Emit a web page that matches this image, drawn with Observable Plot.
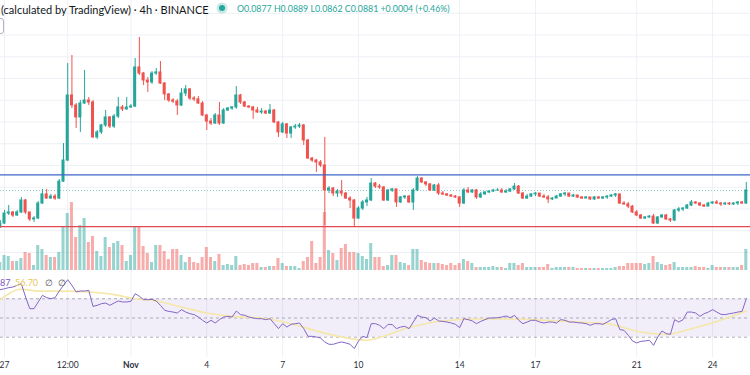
<!DOCTYPE html>
<html><head><meta charset="utf-8">
<script src="https://cdn.jsdelivr.net/npm/d3@7"></script>
<script src="https://cdn.jsdelivr.net/npm/@observablehq/plot@0.6"></script>
<style>
html,body{margin:0;padding:0;background:#fff;}
#chart{position:relative;width:750px;height:375px;overflow:hidden;background:#fff;font-family:Lato,"Noto Sans",sans-serif;}
#chart svg{position:absolute;left:0;}
.txt{position:absolute;white-space:nowrap;line-height:1;}
</style></head><body><div id="chart"></div>
<script>
// ---------- header texts ----------
const titleText = "(calculated by TradingView) · 4h · BINANCE";
const ohlcLabels = ["O", "H", "L", "C"];
const ohlcValues = ["0.0877", "0.0889", "0.0862", "0.0881"];
const changeText = "+0.0004 (+0.46%)";
const rsiLegend = ["87", "56.70", "∅", "∅"];

// ---------- x axis ----------
const dayTicks = [0, 15, 48, 66, 84, 108, 126, 150, 168];
const dayLabels = ["27", "12:00", "4", "7", "10", "14", "17", "21", "24"];
const monthTicks = [30];
const monthLabels = ["Nov"];

// ---------- 4h candles, index -1 .. 176 ----------
const startIndex = -1;
const firstOpen = 0.0719;
const close = [
0.0733,0.0779,0.0784,0.0770,0.0784,0.0839,0.0784,0.0752,0.0756,0.0825,0.0867,
0.0848,0.0857,0.0848,0.0926,0.1023,0.1322,0.1276,0.1221,0.1285,0.1299,
0.1290,0.1129,0.1152,0.1184,0.1221,0.1179,0.1225,0.1267,0.1258,0.1267,
0.1271,0.1451,0.1423,0.1391,0.1382,0.1423,0.1428,0.1377,0.1327,0.1299,
0.1294,0.1276,0.1331,0.1350,0.1308,0.1304,0.1285,0.1230,0.1202,0.1193,
0.1230,0.1193,0.1253,0.1262,0.1267,0.1322,0.1290,0.1271,0.1267,0.1253,
0.1244,0.1248,0.1239,0.1253,0.1198,0.1152,0.1189,0.1147,0.1175,0.1179,
0.1184,0.1115,0.1032,0.1023,0.1014,0.1000,0.0885,0.0894,0.0871,0.0880,
0.0871,0.0848,0.0839,0.0756,0.0802,0.0830,0.0839,0.0917,0.0903,0.0899,
0.0839,0.0885,0.0890,0.0830,0.0853,0.0857,0.0830,0.0885,0.0940,0.0922,
0.0913,0.0885,0.0908,0.0871,0.0867,0.0862,0.0857,0.0853,0.0825,0.0885,
0.0876,0.0885,0.0853,0.0867,0.0876,0.0880,0.0885,0.0885,0.0876,0.0880,
0.0890,0.0903,0.0871,0.0848,0.0857,0.0867,0.0871,0.0857,0.0853,0.0844,
0.0848,0.0857,0.0867,0.0871,0.0857,0.0862,0.0853,0.0848,0.0853,0.0844,
0.0853,0.0848,0.0853,0.0857,0.0862,0.0867,0.0825,0.0821,0.0811,0.0784,
0.0770,0.0756,0.0761,0.0765,0.0733,0.0761,0.0770,0.0752,0.0747,0.0793,
0.0798,0.0802,0.0816,0.0830,0.0825,0.0816,0.0811,0.0825,0.0830,0.0825,
0.0821,0.0825,0.0821,0.0825,0.0830,0.0825,0.0885];
const high = [
0.0747,0.0793,0.0816,0.0788,0.0793,0.0853,0.0844,0.0784,0.0765,0.0834,0.0890,
0.0890,0.0867,0.0867,0.0936,0.1101,0.1469,0.1506,0.1285,0.1299,0.1437,
0.1313,0.1299,0.1161,0.1189,0.1253,0.1225,0.1235,0.1313,0.1276,0.1313,
0.1281,0.1492,0.1589,0.1428,0.1405,0.1432,0.1446,0.1478,0.1382,0.1331,
0.1308,0.1304,0.1354,0.1368,0.1354,0.1317,0.1317,0.1294,0.1235,0.1216,
0.1239,0.1290,0.1262,0.1267,0.1271,0.1363,0.1327,0.1294,0.1276,0.1271,
0.1267,0.1262,0.1253,0.1281,0.1258,0.1202,0.1198,0.1193,0.1179,0.1189,
0.1193,0.1189,0.1120,0.1037,0.1028,0.1023,0.1129,0.0903,0.0899,0.0890,
0.0931,0.0876,0.0857,0.0844,0.0811,0.0839,0.0853,0.0940,0.0922,0.0913,
0.0903,0.0890,0.0894,0.0890,0.0857,0.0862,0.0862,0.0894,0.0949,0.0945,
0.0926,0.0917,0.0913,0.0917,0.0880,0.0871,0.0867,0.0862,0.0857,0.0894,
0.0899,0.0890,0.0890,0.0876,0.0880,0.0885,0.0890,0.0894,0.0894,0.0890,
0.0894,0.0917,0.0908,0.0876,0.0867,0.0871,0.0876,0.0871,0.0867,0.0862,
0.0853,0.0862,0.0871,0.0876,0.0871,0.0867,0.0862,0.0857,0.0857,0.0853,
0.0857,0.0857,0.0857,0.0862,0.0867,0.0871,0.0867,0.0834,0.0830,0.0816,
0.0793,0.0775,0.0765,0.0770,0.0775,0.0765,0.0775,0.0775,0.0756,0.0798,
0.0807,0.0807,0.0821,0.0839,0.0834,0.0830,0.0821,0.0830,0.0834,0.0839,
0.0830,0.0830,0.0830,0.0830,0.0834,0.0834,0.0922];
const low = [
0.0710,0.0729,0.0770,0.0761,0.0765,0.0779,0.0775,0.0742,0.0738,0.0752,0.0821,
0.0844,0.0844,0.0839,0.0844,0.0922,0.1018,0.1262,0.1170,0.1152,0.1281,
0.1276,0.1124,0.1120,0.1143,0.1175,0.1170,0.1170,0.1216,0.1248,0.1253,
0.1262,0.1267,0.1414,0.1368,0.1336,0.1373,0.1414,0.1373,0.1299,0.1290,
0.1285,0.1230,0.1271,0.1317,0.1299,0.1294,0.1281,0.1225,0.1161,0.1184,
0.1189,0.1184,0.1189,0.1248,0.1253,0.1258,0.1281,0.1267,0.1262,0.1212,
0.1239,0.1235,0.1235,0.1235,0.1193,0.1129,0.1147,0.1124,0.1124,0.1166,
0.1170,0.1092,0.1028,0.1014,0.0968,0.0991,0.0724,0.0871,0.0857,0.0853,
0.0857,0.0844,0.0802,0.0715,0.0752,0.0793,0.0811,0.0834,0.0894,0.0890,
0.0834,0.0834,0.0876,0.0807,0.0825,0.0844,0.0825,0.0793,0.0880,0.0917,
0.0903,0.0880,0.0880,0.0862,0.0862,0.0857,0.0853,0.0848,0.0807,0.0821,
0.0871,0.0871,0.0844,0.0848,0.0862,0.0871,0.0876,0.0880,0.0871,0.0871,
0.0876,0.0885,0.0867,0.0844,0.0844,0.0853,0.0857,0.0853,0.0848,0.0825,
0.0839,0.0848,0.0853,0.0857,0.0853,0.0853,0.0848,0.0844,0.0848,0.0839,
0.0839,0.0844,0.0844,0.0844,0.0853,0.0853,0.0821,0.0816,0.0802,0.0779,
0.0765,0.0752,0.0752,0.0756,0.0729,0.0729,0.0756,0.0747,0.0738,0.0742,
0.0784,0.0788,0.0798,0.0811,0.0821,0.0811,0.0807,0.0811,0.0821,0.0821,
0.0811,0.0816,0.0816,0.0816,0.0816,0.0821,0.0821];
const volume = [
8,15,14,9,9,12,18,17,5,25,21,
15,13,13,18,43,57,68,33,45,52,
28,34,19,14,33,23,27,29,25,9,
15,44,44,24,17,8,25,25,19,11,
21,21,15,8,13,8,7,13,23,13,
9,16,5,6,5,14,5,6,5,7,
7,3,3,4,4,12,7,4,4,4,
2,9,13,29,7,13,58,20,17,10,
22,26,18,18,17,14,11,27,13,13,
4,5,15,15,8,7,5,21,21,10,
8,7,7,7,6,5,7,5,7,11,
9,7,3,3,3,3,4,3,3,2,
7,7,5,7,3,3,3,3,3,6,
2,3,3,3,3,3,2,2,2,2,
2,2,2,2,2,3,4,4,7,7,
7,7,6,7,14,8,6,5,6,8,
3,3,3,3,4,3,3,2,5,3,
3,3,3,3,3,5,21];
const rsi = [
79.5,80.5,81.6,82.3,84.0,85.7,71.9,59.7,59.7,66.7,73.6,
71.2,70.1,71.2,78.1,84.0,89.9,84.0,77.1,78.1,78.1,
78.8,62.1,63.2,64.9,65.6,63.2,65.6,67.7,66.7,66.7,
67.4,75.3,72.6,69.1,69.1,69.4,67.7,63.2,58.0,56.9,
56.2,55.2,58.7,56.2,54.5,53.5,51.0,47.6,44.8,47.6,
44.8,48.3,51.0,51.7,51.0,57.3,53.5,52.8,51.0,50.0,
49.3,49.3,48.3,49.3,44.1,38.9,44.1,40.6,43.4,44.1,
44.8,38.9,30.9,30.9,30.2,29.2,25.0,22.6,22.6,24.0,
25.0,24.0,22.6,18.1,26.1,30.9,29.5,44.1,44.1,42.4,
38.9,43.4,43.1,38.9,40.6,41.3,38.9,45.8,52.8,51.0,
50.3,46.9,50.0,46.9,46.5,45.8,44.8,43.4,39.9,49.3,
48.3,46.9,44.1,46.5,48.3,50.0,50.0,50.3,51.0,52.1,
50.3,52.8,47.6,44.1,45.8,47.6,47.6,45.8,44.8,45.8,
45.8,44.8,48.3,47.6,45.8,45.8,45.1,44.8,44.1,42.4,
44.1,44.1,43.4,45.8,48.3,49.3,37.9,37.2,32.0,26.1,
24.0,25.7,26.1,26.8,21.5,30.2,36.5,33.7,33.0,48.3,
45.8,48.3,56.2,56.2,55.2,51.7,54.5,56.2,58.7,56.2,
53.8,53.5,54.5,55.2,56.2,56.9,70.1];
const rsiMaIndex = [-1,4,8,15,23,27,31,36,42,48,54,62,68,74,80,86,88,96,104,112,120,128,136,143,151,157,163,171,176];
const rsiMaValue = [69,80,78,78,76,73.6,70.1,67.7,61.5,55.2,51.7,49.3,44.1,36.5,30.2,26.8,28.5,40,46.9,49,49,47.6,45.8,44.1,35.4,33,38.9,49.3,57.3];

// ---------- levels ----------
const priceGrid = [0.06,0.07,0.08,0.09,0.10,0.11,0.12,0.13,0.14,0.15,0.16,0.17];
const resistance = [0.0957];
const support = [0.0719];
const rsiBand = [{lo: 30, hi: 70}];
const rsiLevels = [30, 50, 70];

// ---------- build ----------
const UP = "#26a69a", DOWN = "#ef5350";
const candles = close.map((c, i) => {
  const open = i === 0 ? firstOpen : close[i - 1];
  return {k: startIndex + i, open, close: c, high: high[i], low: low[i], vol: volume[i], rsi: rsi[i], up: c >= open};
});
const maData = rsiMaIndex.map((k, i) => ({k, v: rsiMaValue[i]}));
const allTicks = dayTicks.concat(monthTicks);
const lastClose = [candles[candles.length - 1].close];

const X = {domain: [-0.949, 177.0], range: [0, 750], label: null};
const base = {width: 750, marginTop: 0, marginRight: 0, marginBottom: 0, marginLeft: 0,
  color: {type: "identity"},
  style: {background: "transparent", overflow: "visible", fontFamily: "Lato, 'Noto Sans', sans-serif"}};
const priceY = {domain: [0.05, 0.17], range: [273.7, 12.8], axis: null};
const GRID = "#edf0f5";
const chart = document.getElementById("chart");
function place(svg, top) { svg.style.top = top + "px"; chart.appendChild(svg); }

// grid of price pane
place(Plot.plot({...base, height: 272, x: {...X, axis: null}, y: priceY, marks: [
  Plot.gridX(allTicks, {stroke: GRID, strokeOpacity: 1}),
  Plot.gridY(priceGrid, {stroke: GRID, strokeOpacity: 1})
]}), 0);

// volume overlay
place(Plot.plot({...base, height: 272, x: {...X, axis: null}, y: {domain: [0, 100], range: [270, 170], axis: null}, marks: [
  Plot.rect(candles, {x1: d => d.k - 0.36, x2: d => d.k + 0.36, y1: 0, y2: "vol",
    fill: d => d.up ? UP : DOWN, fillOpacity: 0.48})
]}), 0);

// candles and level lines
place(Plot.plot({...base, height: 272, x: {...X, axis: null}, y: priceY, marks: [
  Plot.ruleY(lastClose, {stroke: UP, strokeOpacity: 0.55, strokeDasharray: "1,2"}),
  Plot.ruleX(candles, {x: "k", y1: "low", y2: "high", stroke: d => d.up ? UP : DOWN, strokeWidth: 1}),
  Plot.rect(candles, {x1: d => d.k - 0.36, x2: d => d.k + 0.36, y1: "open", y2: "close",
    fill: d => d.up ? UP : DOWN, insetTop: -0.5, insetBottom: -0.5}),
  Plot.ruleY(resistance, {stroke: "#3d65c8", strokeWidth: 1.3}),
  Plot.ruleY(support, {stroke: "#e3474f", strokeWidth: 1.3})
]}), 0);

// RSI pane + time axis
const xLo = candles[0].k - 1, xHi = candles[candles.length - 1].k + 1;
place(Plot.plot({...base, height: 103, marginBottom: 18, x: X, y: {domain: [30, 70], range: [64.7, 26.3], axis: null}, marks: [
  Plot.gridX(allTicks, {stroke: GRID, strokeOpacity: 1}),
  Plot.rect(rsiBand, {x1: () => xLo, x2: () => xHi, y1: "lo", y2: "hi", fill: "#7e57c2", fillOpacity: 0.1}),
  Plot.ruleY(rsiLevels, {stroke: "#787b86", strokeOpacity: 0.6, strokeDasharray: "3,3"}),
  Plot.line(maData, {x: "k", y: "v", curve: "monotone-x", stroke: "#f5e7a8", strokeWidth: 1.6}),
  Plot.line(candles, {x: "k", y: "rsi", stroke: "#8466c6", strokeWidth: 1}),
  Plot.axisX(dayTicks, {tickFormat: d => dayLabels[dayTicks.indexOf(d)], tickSize: 0, tickPadding: 4, fontSize: 8.5, color: "#2a2e39", label: null}),
  Plot.axisX(monthTicks, {tickFormat: d => monthLabels[monthTicks.indexOf(d)], tickSize: 0, tickPadding: 4, fontSize: 8.5, fontWeight: "bold", color: "#2a2e39", label: null})
]}), 272);

// ---------- HTML legends ----------
function addText(html, css) { const d = document.createElement("div"); d.className = "txt"; d.innerHTML = html; Object.assign(d.style, css); chart.appendChild(d); return d; }
addText(titleText, {left: "1px", top: "4px", fontSize: "11px", color: "#131722"});
const dot = document.createElement("div");
Object.assign(dot.style, {position: "absolute", left: "219px", top: "5px", width: "6px", height: "6px", borderRadius: "50%", background: UP, boxShadow: "0 0 0 2.5px rgba(38,166,154,0.25)"});
chart.appendChild(dot);
addText(ohlcLabels.map((l, i) => l + ohlcValues[i]).join(" ") + " " + changeText, {left: "237px", top: "5px", fontSize: "8.8px", color: UP});
const box = document.createElement("div");
Object.assign(box.style, {position: "absolute", left: "-7px", top: "18px", width: "9px", height: "14px", border: "1px solid #b2b5be", borderRadius: "3px"});
chart.appendChild(box);
addText(`<span style="color:#7e57c2">${rsiLegend[0]}</span>&nbsp; <span style="color:#e6c95a">${rsiLegend[1]}</span>&nbsp;&nbsp; <span style="color:#50535e">${rsiLegend[2]}</span>&nbsp;&nbsp;<span style="color:#50535e">${rsiLegend[3]}</span>`,
  {left: "0px", top: "278px", fontSize: "9px"});
</script></body></html>
